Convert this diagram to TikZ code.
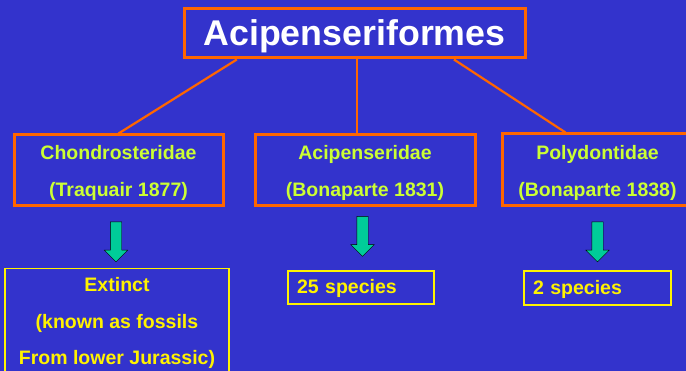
\documentclass[tikz,border=0pt]{standalone}
\usepackage{fontspec}
\setmainfont{Liberation Sans}
\usetikzlibrary{calc, shapes.arrows}

\definecolor{slideblue}{RGB}{51,51,204}
\definecolor{famorange}{RGB}{255,102,0}
\definecolor{famlime}{RGB}{204,255,51}
\definecolor{downgreen}{RGB}{0,204,153}

% taller first line, pushes the text down a little
\newcommand{\famstrut}{\rule{0pt}{20pt}}

\tikzset{
    family/.style={draw=famorange, line width=3pt, text=famlime, align=center,
        font=\fontsize{19.5}{37}\selectfont\bfseries, inner sep=0pt},
    countbox/.style={draw=yellow, text=yellow, line width=2.5pt, align=left,
        font=\fontsize{19.5}{37}\selectfont\bfseries, inner xsep=9pt, inner ysep=0pt,
        text height=17pt, text depth=4pt},
    downarrow/.style={single arrow, shape border rotate=270, draw=black, fill=downgreen,
        minimum height=40pt, minimum width=23pt, single arrow head extend=6pt, inner sep=5.5pt},
    branch/.style={famorange, line width=2.2pt}
}

\begin{document}
\begin{tikzpicture}[x=1pt, y=-1pt]
        \fill[slideblue] (0,0) rectangle (686,371);
        \useasboundingbox (0,0) rectangle (686,371);

        % order
        \node[draw=famorange, line width=3pt, text=white, font=\fontsize{35.75}{40}\selectfont\bfseries,
            minimum width=341pt, minimum height=49pt, inner sep=0pt, text height=32pt, text depth=8pt]
            (order) at (354.5,33.5) {Acipenseriformes};

        % families
        \node[family, minimum width=209pt, minimum height=71pt] (chon) at (118.5,170.5)
            {\famstrut Chondrosteridae\\(Traquair 1877)};
        \node[family, minimum width=220pt, minimum height=71pt] (acip) at (365,170)
            {\famstrut Acipenseridae\\(Bonaparte 1831)};
        \node[family, minimum width=191pt, minimum height=72pt] (poly) at (597.5,170)
            {\famstrut Polydontidae\\(Bonaparte 1838)};

        \coordinate (leftfoot) at ($(order.south west)!0.158!(order.south east)$);
        \coordinate (midfoot) at ($(order.south west)!0.507!(order.south east)$);
        \coordinate (rightfoot) at ($(order.south west)!0.789!(order.south east)$);
        \coordinate (polytop) at ($(poly.north west)!0.335!(poly.north east)$);

        \draw[branch] (leftfoot) -- (chon.north);
        \draw[branch] (midfoot) -- (midfoot |- acip.north);
        \draw[branch] (rightfoot) -- (polytop);

        % arrows
        \node[downarrow] (arrchon) at (116,239) {};
        \node[downarrow] (arracip) at (362.5,233.5) {};
        \node[downarrow] (arrpoly) at (597.5,239) {};

        % what is left of them
        \node[draw=yellow, line width=1.3pt, text=yellow, align=center, inner sep=0pt,
            font=\fontsize{19.5}{36.5}\selectfont\bfseries, minimum width=224pt, minimum height=105pt]
            (extinct) at (117,321) {\rule{0pt}{19pt}Extinct\\(known as fossils\\From lower Jurassic)};
        \node[countbox, text width=128pt, minimum height=33pt] (acipnum) at (361,287.5) {25 species};
        \node[countbox, text width=129pt, minimum height=34pt] (polynum) at (597.5,288) {2 species};

    \end{tikzpicture}
\end{document}
